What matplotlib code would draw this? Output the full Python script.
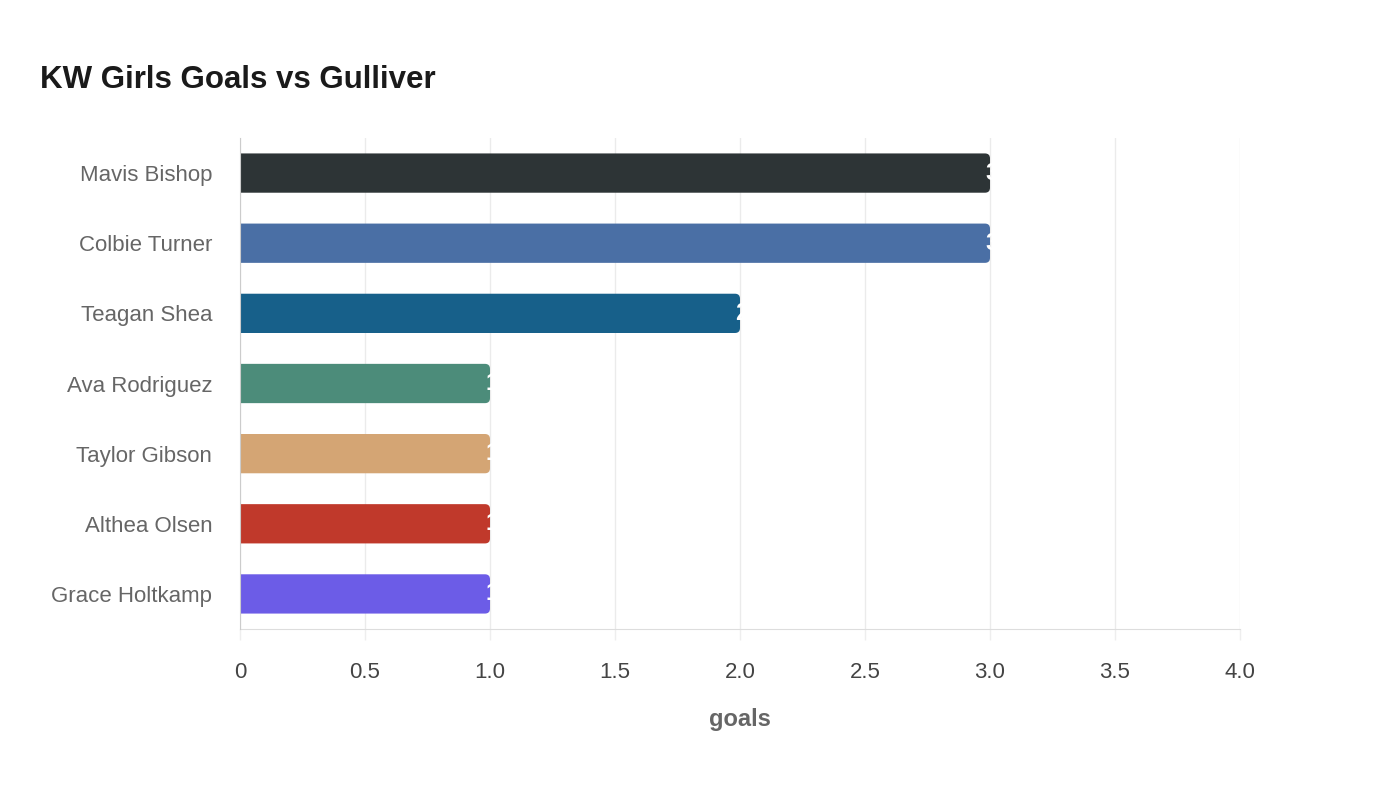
import matplotlib
matplotlib.use("Agg")
import matplotlib.pyplot as plt
from matplotlib.patches import FancyBboxPatch

# data
players = ["Mavis Bishop", "Colbie Turner", "Teagan Shea", "Ava Rodriguez",
           "Taylor Gibson", "Althea Olsen", "Grace Holtkamp"]
goals = [3, 3, 2, 1, 1, 1, 1]
bar_colors = ["#2d3436", "#4a6fa5", "#17608a", "#4c8c7a",
              "#d4a574", "#c0392b", "#6c5ce7"]
xticks = [0, 0.5, 1.0, 1.5, 2.0, 2.5, 3.0, 3.5, 4.0]
xtick_labels = ["0", "0.5", "1.0", "1.5", "2.0", "2.5", "3.0", "3.5", "4.0"]

plt.rcParams['font.family'] = ['Liberation Sans', 'DejaVu Sans']

fig = plt.figure(figsize=(14, 8), dpi=100)
ax = fig.add_axes([240 / 1400, 1 - 629 / 800, 1000 / 1400, 491 / 800])

n = len(players)
ax.set_xlim(0, 4)
ax.set_ylim(n - 0.5, -0.5)

bar_h = 0.56
px_x = 4 / 1000      # data units per pixel, x
px_y = n / 491       # data units per pixel, y
r = 5 * px_x
for i, (v, c) in enumerate(zip(goals, bar_colors)):
    start = -0.05
    patch = FancyBboxPatch((start, i - bar_h / 2), v - start, bar_h,
                           boxstyle=f"round,pad=0,rounding_size={r}",
                           mutation_aspect=px_y / px_x,
                           facecolor=c, edgecolor="none", zorder=3)
    ax.add_patch(patch)
    # value label sits on the bar end, only the part over the bar shows
    t = ax.text(v + 2 * px_x, i, str(v), color="white", fontsize=17,
                fontweight="bold", ha="center", va="center", zorder=4)
    t.set_clip_path(patch)

ax.set_yticks(range(n))
ax.set_yticklabels(players, fontsize=16, color="#666666")
ax.set_xticks(xticks)
ax.set_xticklabels(xtick_labels, fontsize=16, color="#444444")
ax.tick_params(axis="y", length=0, pad=20)
ax.tick_params(axis="x", length=8, color="#eeeeee", width=1, pad=16)

ax.grid(axis="x", color="#ebebeb", linewidth=1, zorder=0)
ax.set_axisbelow(True)
for s in ["top", "right"]:
    ax.spines[s].set_visible(False)
ax.spines["left"].set_color("#cccccc")
ax.spines["bottom"].set_color("#dddddd")
ax.spines["left"].set_zorder(5)

ax.set_xlabel("goals", fontsize=17, fontweight="bold", color="#666666", labelpad=17.5)
fig.text(40 / 1400, 1 - 80 / 800, "KW Girls Goals vs Gulliver", fontsize=22.5,
         fontweight="bold", color="#1a1a1a", ha="left", va="center")

fig.savefig("out.png", dpi=100, facecolor="white")
